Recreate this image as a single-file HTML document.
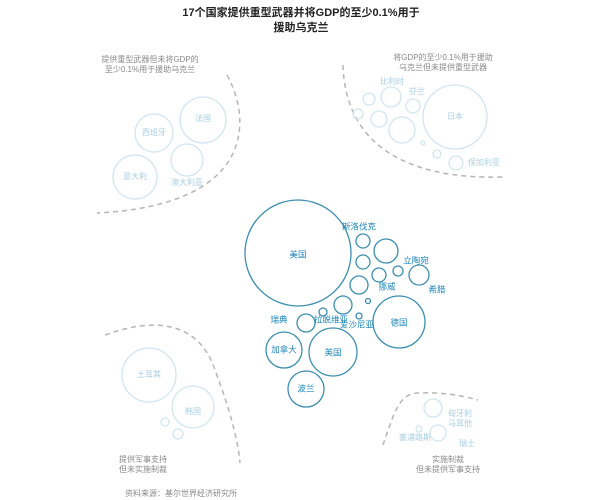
<!DOCTYPE html>
<html><head><meta charset="utf-8"><style>
html,body{margin:0;padding:0;background:#fff;}
svg{display:block;font-family:"Liberation Sans","Noto Sans CJK SC",sans-serif;}
.m{fill:none;stroke:#3d8eae;stroke-width:1.3}
.f{fill:none;stroke:#d2e5ee;stroke-width:1.3}
.ml{fill:#1f86b5;font-size:8.5px;text-anchor:middle;dominant-baseline:middle}
.fl{fill:#a9cde0;font-size:8px;text-anchor:middle;dominant-baseline:middle}
.g{fill:#8a8a8a;font-size:8px;text-anchor:middle}
.d{fill:none;stroke:#b5b5b5;stroke-width:1.5;stroke-dasharray:5 4}
</style></head><body>
<svg width="602" height="500" viewBox="0 0 602 500">
<text x="301" y="16" text-anchor="middle" font-size="11" font-weight="bold" fill="#222">17个国家提供重型武器并将GDP的至少0.1%用于</text>
<text x="301" y="31" text-anchor="middle" font-size="11" font-weight="bold" fill="#222">援助乌克兰</text>

<!-- top-left -->
<text class="g" x="150" y="62">提供重型武器但未将GDP的</text>
<text class="g" x="150" y="72">至少0.1%用于援助乌克兰</text>
<path class="d" d="M227,75 C252,120 255,205 97,213"/>
<circle class="f" cx="203" cy="120" r="23"/><text class="fl" x="203" y="119">法国</text>
<circle class="f" cx="154" cy="133" r="19"/><text class="fl" x="154" y="133">西班牙</text>
<circle class="f" cx="187" cy="160" r="16"/><text class="fl" x="187" y="183">澳大利亚</text>
<circle class="f" cx="135" cy="177" r="22"/><text class="fl" x="135" y="177">意大利</text>

<!-- top-right -->
<text class="g" x="443" y="60">将GDP的至少0.1%用于援助</text>
<text class="g" x="443" y="70">乌克兰但未提供重型武器</text>
<path class="d" d="M343,65 C345,140 400,180 503,177"/>
<circle class="f" cx="455" cy="117" r="32"/><text class="fl" x="455" y="117">日本</text>
<circle class="f" cx="402" cy="130" r="13"/>
<circle class="f" cx="391" cy="97" r="10"/>
<circle class="f" cx="413" cy="106" r="7"/>
<circle class="f" cx="369" cy="99" r="6"/>
<circle class="f" cx="379" cy="119" r="8"/>
<circle class="f" cx="358" cy="114" r="5"/>
<circle class="f" cx="423" cy="143" r="2"/>
<circle class="f" cx="437" cy="154" r="4"/>
<circle class="f" cx="456" cy="163" r="7"/>
<text class="fl" x="392" y="82">比利时</text>
<text class="fl" x="417" y="92">芬兰</text>
<text class="fl" x="484" y="163">保加利亚</text>

<!-- center -->
<circle class="m" cx="298" cy="253" r="53"/><text class="ml" x="298" y="255">美国</text>
<circle class="m" cx="363" cy="241" r="7"/>
<circle class="m" cx="386" cy="251" r="12"/>
<circle class="m" cx="363" cy="262" r="7"/>
<circle class="m" cx="379" cy="275" r="7"/>
<circle class="m" cx="398" cy="271" r="5"/>
<circle class="m" cx="419" cy="275" r="10"/>
<circle class="m" cx="359" cy="285" r="9"/>
<circle class="m" cx="343" cy="305" r="9"/>
<circle class="m" cx="368" cy="301" r="2.5"/>
<circle class="m" cx="323" cy="312" r="4"/>
<circle class="m" cx="359" cy="316" r="3"/>
<circle class="m" cx="306" cy="323" r="9"/>
<circle class="m" cx="399" cy="322" r="26"/><text class="ml" x="399" y="323">德国</text>
<circle class="m" cx="284" cy="350" r="18"/><text class="ml" x="284" y="350">加拿大</text>
<circle class="m" cx="333" cy="352" r="24"/><text class="ml" x="333" y="353">英国</text>
<circle class="m" cx="306" cy="389" r="18"/><text class="ml" x="306" y="389">波兰</text>
<text class="ml" x="359" y="227">斯洛伐克</text>
<text class="ml" x="416" y="261">立陶宛</text>
<text class="ml" x="387" y="287">挪威</text>
<text class="ml" x="437" y="290">希腊</text>
<text class="ml" x="279" y="320">瑞典</text>
<text class="ml" x="331" y="320">拉脱维亚</text>
<text class="ml" x="357" y="325">爱沙尼亚</text>

<!-- bottom-left -->
<path class="d" d="M105,335 C160,315 200,325 215,370 C230,410 238,440 240,463"/>
<circle class="f" cx="149" cy="375" r="27"/><text class="fl" x="149" y="375">土耳其</text>
<circle class="f" cx="193" cy="407" r="21"/><text class="fl" x="193" y="412">韩国</text>
<circle class="f" cx="165" cy="422" r="4"/>
<circle class="f" cx="178" cy="434" r="5"/>
<text class="g" x="143" y="462">提供军事支持</text>
<text class="g" x="143" y="472">但未实施制裁</text>

<!-- bottom-right -->
<path class="d" d="M383,445 C395,410 400,392 420,393 C440,392 460,395 478,400"/>
<circle class="f" cx="433" cy="408" r="9"/>
<circle class="f" cx="438" cy="433" r="8"/>
<circle class="f" cx="419" cy="429" r="3"/>
<text class="fl" x="460" y="414">匈牙利</text>
<text class="fl" x="460" y="424">马耳他</text>
<text class="fl" x="415" y="438">塞浦路斯</text>
<text class="fl" x="467" y="444">瑞士</text>
<text class="g" x="448" y="462">实施制裁</text>
<text class="g" x="448" y="472">但未提供军事支持</text>

<text x="125" y="496" font-size="8" fill="#8a8a8a">资料来源：基尔世界经济研究所</text>
</svg>
</body></html>
